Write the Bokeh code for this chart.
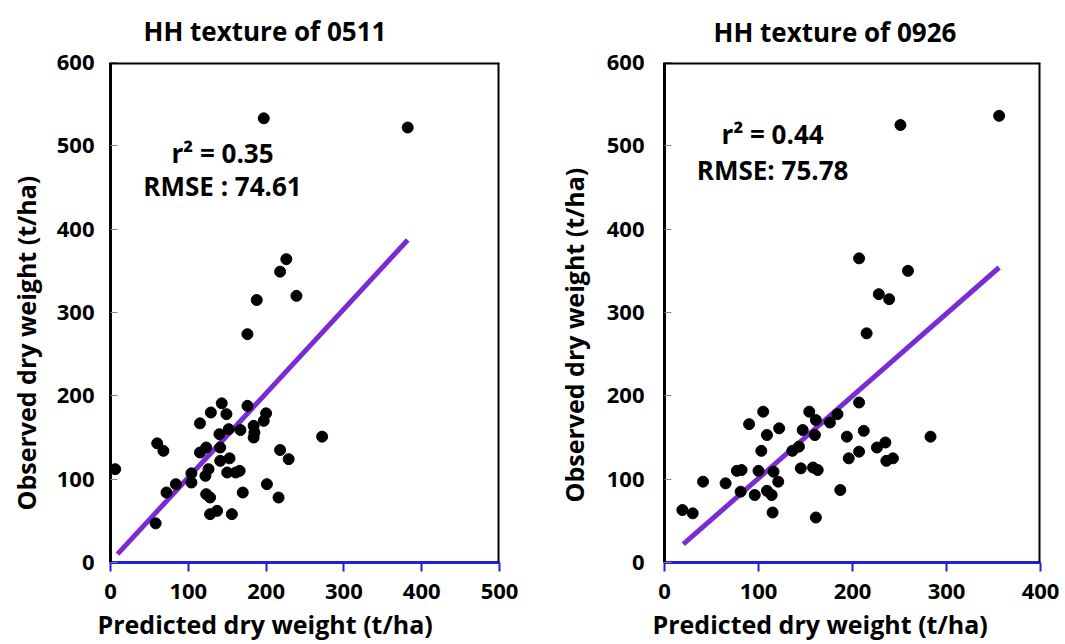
from bokeh.plotting import figure
from bokeh.models import Range1d, Span, FixedTicker, Title
from bokeh.layouts import row
from bokeh.core.properties import value
from bokeh.embed import file_html
from bokeh.resources import INLINE

# ---- data: HH texture of 0511 ----
pred_0511 = [197, 382, 226, 218, 239, 188, 176, 6, 60, 68, 72, 84, 58, 104, 104, 115, 115,
             123, 122, 126, 129, 123, 128, 128, 137, 143, 149, 140, 141, 141, 153, 150, 152,
             156, 161, 166, 167, 170, 176, 184, 185, 184, 197, 200, 201, 218, 229, 216, 272]
obs_0511 = [533, 522, 364, 349, 320, 315, 274, 112, 143, 134, 84, 94, 47, 107, 96, 167, 132,
            138, 104, 112, 180, 82, 78, 58, 62, 191, 178, 154, 138, 122, 125, 108, 160,
            58, 108, 110, 159, 84, 188, 164, 156, 150, 170, 179, 94, 135, 124, 78, 151]
fit_x_0511 = [9, 382]
fit_y_0511 = [10, 387]

# ---- data: HH texture of 0926 ----
pred_0926 = [251, 356, 207, 259, 228, 239, 215, 19, 30, 41, 65, 77, 82, 81, 90, 96, 100,
             103, 105, 109, 109, 114, 116, 121, 115, 122, 136, 143, 145, 147, 154, 158, 161,
             160, 163, 161, 176, 184, 187, 194, 196, 207, 212, 207, 226, 235, 236, 243, 283]
obs_0926 = [525, 536, 365, 350, 322, 316, 275, 63, 59, 97, 95, 110, 111, 85, 166, 81, 110,
            134, 181, 153, 86, 81, 109, 97, 60, 161, 134, 139, 113, 159, 181, 114, 171,
            153, 111, 54, 168, 178, 87, 151, 125, 192, 158, 133, 138, 144, 122, 125, 151]
fit_x_0926 = [20, 356]
fit_y_0926 = [22, 354]

y_ticks = [0, 100, 200, 300, 400, 500, 600]
x_ticks_0511 = [0, 100, 200, 300, 400, 500]
x_ticks_0926 = [0, 100, 200, 300, 400]

x_title = "Predicted dry weight (t/ha)"
y_title = "Observed dry weight (t/ha)"

FONT = "Open Sans"
LINE_COLOR = "#7a2bd3"


def side_title(p, text, place, size, offset, standoff, valign):
    t = Title(text=text, align="left", offset=offset, standoff=standoff,
              vertical_align=valign,
              text_font=FONT, text_font_style="bold", text_font_size=size,
              text_color="black")
    p.add_layout(t, place)


def panel(title, px, py, fx, fy, xticks, stats, stat_pos, width, borders, ylab_standoff, tpos):
    left, right, top, bottom = borders
    p = figure(width=width, height=644, x_range=Range1d(0, xticks[-1]), y_range=Range1d(0, 600),
               output_backend="svg", toolbar_location=None,
               min_border_left=left, min_border_right=right,
               min_border_top=top, min_border_bottom=bottom)
    p.grid.visible = False
    p.outline_line_color = None
    p.background_fill_color = "white"
    p.border_fill_color = "white"

    p.title.text = title
    p.title.align = "left"
    p.title.vertical_align = "top"
    p.title.offset = tpos[0][0]
    p.title.standoff = tpos[0][1]
    p.title.text_font = FONT
    p.title.text_font_style = "bold"
    p.title.text_font_size = "26px"
    p.title.text_color = "black"

    xa = p.xaxis[0]
    xa.ticker = FixedTicker(ticks=xticks)
    xa.axis_line_color = "#1f1fd6"
    xa.axis_line_width = 3
    xa.major_tick_line_color = "#1f1fd6"
    xa.major_tick_line_width = 2
    xa.major_tick_out = 9
    xa.major_tick_in = 0
    xa.minor_tick_line_color = None
    xa.major_label_text_font = FONT
    xa.major_label_text_font_style = "bold"
    xa.major_label_text_font_size = "22px"
    xa.major_label_text_color = "black"
    xa.major_label_standoff = 12

    ya = p.yaxis[0]
    ya.ticker = FixedTicker(ticks=y_ticks)
    ya.axis_line_color = "black"
    ya.axis_line_width = 3
    ya.major_tick_line_color = "#888888"
    ya.major_tick_line_width = 1
    ya.major_tick_in = 7
    ya.major_tick_out = 0
    ya.minor_tick_line_color = None
    ya.major_label_text_font = FONT
    ya.major_label_text_font_style = "bold"
    ya.major_label_text_font_size = "22px"
    ya.major_label_text_color = "black"
    ya.major_label_standoff = ylab_standoff

    side_title(p, x_title, "below", "25px", tpos[1][0], tpos[1][1], "bottom")
    side_title(p, y_title, "left", "25px", tpos[2][0], tpos[2][1], "top")

    p.add_layout(Span(location=600, dimension="width", line_color="black", line_width=4))
    p.add_layout(Span(location=xticks[-1], dimension="height", line_color="black", line_width=4))

    p.line(fx, fy, line_color=LINE_COLOR, line_width=5)
    p.scatter(px, py, size=11, fill_color="black", line_color="black")

    p.text(x=[stat_pos[0]] * 2, y=stat_pos[1], text=stats,
           text_font=value(FONT), text_font_style="bold", text_font_size="26px",
           text_align="center", text_baseline="middle", text_color="black")
    return p


p1 = panel("HH texture of 0511", pred_0511, obs_0511, fit_x_0511, fit_y_0511, x_ticks_0511,
           ["r\u00b2 = 0.35", "RMSE : 74.61"], (144, [492, 452]),
           540, (110, 41, 62, 82), 16,
           ((33, 24), (-13, 6), (52, 17)))
p2 = panel("HH texture of 0926", pred_0926, obs_0926, fit_x_0926, fit_y_0926, x_ticks_0926,
           ["r\u00b2 = 0.44", "RMSE: 75.78"], (115, [514, 471]),
           525, (124, 25, 62, 82), 20,
           ((49, 22), (-12, 6), (60, 21)))

layout = row(p1, p2)
open("out.html", "w").write(file_html(layout, INLINE))
